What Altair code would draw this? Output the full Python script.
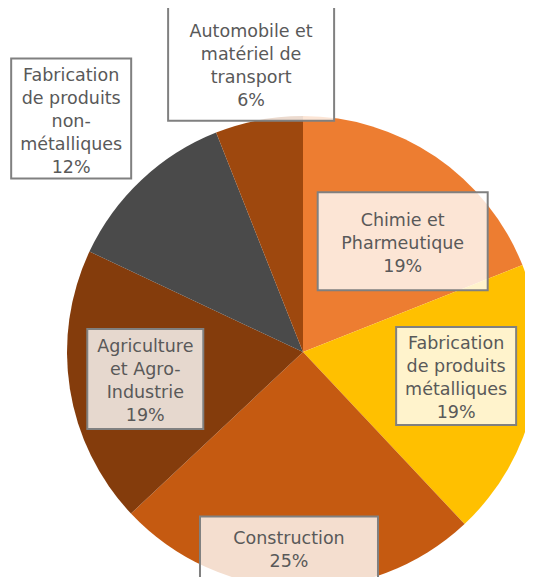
import math
import altair as alt
import pandas as pd

# ---- data ----
categories = [
    "Chimie et Pharmeutique",
    "Fabrication de produits métalliques",
    "Construction",
    "Agriculture et Agro-Industrie",
    "Fabrication de produits non-métalliques",
    "Automobile et matériel de transport",
]
label_text = [
    "Chimie et\nPharmeutique",
    "Fabrication\nde produits\nmétalliques",
    "Construction",
    "Agriculture\net Agro-\nIndustrie",
    "Fabrication\nde produits\nnon-\nmétalliques",
    "Automobile et\nmatériel de\ntransport",
]
values = [19, 19, 25, 19, 12, 6]
colors = ["#ED7D31", "#FFC000", "#C55A11", "#843C0C", "#4A4A4A", "#9E480E"]

# ---- label layout (annotation placement, not data) ----
label_radius = [149, 155, 196, 160, 329, 293]
label_nudge_deg = [7.8, -3.7, 2.3, -0.7, -1.6, 0.6]
box_w = [170, 120, 178, 116, 120, 166]
box_h = [98, 98, 62, 100, 120, 114]

W, H = 517, 569
CX, CY, R = 295, 344, 236
LH = 23

total = sum(values)
rows = []
cum = 0
for i, (c, v) in enumerate(zip(categories, values)):
    mid = (cum + v / 2) / total * 360 + label_nudge_deg[i]
    cum += v
    a = math.radians(mid)
    lx = CX + label_radius[i] * math.sin(a)
    ly = CY - label_radius[i] * math.cos(a)
    label = f"{label_text[i]}\n{v}%"
    n = label.count("\n") + 1
    rows.append({
        "idx": i,
        "cat": c,
        "value": v,
        "label": label,
        "lx": lx,
        "ty": ly - (n - 1) / 2 * LH,
        "x1": lx - box_w[i] / 2,
        "x2": lx + box_w[i] / 2,
        "y1": ly - box_h[i] / 2,
        "y2": ly + box_h[i] / 2,
    })
df = pd.DataFrame(rows)

base = alt.Chart(df)

pie = base.mark_arc(outerRadius=R).encode(
    theta=alt.Theta("value:Q", stack=True),
    order=alt.Order("idx:Q"),
    color=alt.Color("cat:N", scale=alt.Scale(domain=categories, range=colors), legend=None),
    x=alt.value(CX),
    y=alt.value(CY),
)

boxes = base.mark_rect(fill="white", fillOpacity=0.8, stroke="#808080", strokeWidth=2).encode(
    x=alt.X("x1:Q", scale=None),
    x2="x2:Q",
    y=alt.Y("y1:Q", scale=None),
    y2="y2:Q",
)

texts = base.mark_text(
    font="DejaVu Sans", fontSize=17.5, color="#595959", lineBreak="\n",
    lineHeight=LH, align="center", baseline="middle", dy=3,
).encode(
    x=alt.X("lx:Q", scale=None),
    y=alt.Y("ty:Q", scale=None),
    text="label:N",
)

chart = alt.layer(pie, boxes, texts).properties(
    width=W, height=H, padding=0, autosize=alt.AutoSizeParams(type="none"),
).configure_view(stroke=None)

chart.save("out.html", embed_options={"renderer": "svg", "actions": False})
